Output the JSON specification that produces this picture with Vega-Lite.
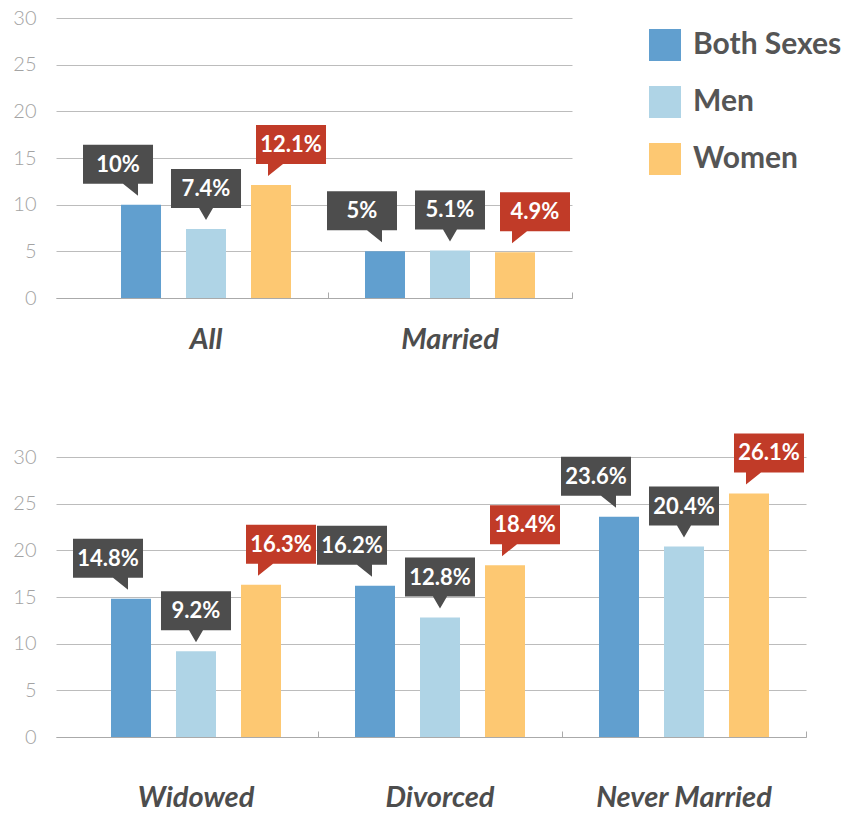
{
  "$schema": "https://vega.github.io/schema/vega-lite/v6.json",
  "padding": {"top": 8, "left": 12, "right": 0, "bottom": 0},
  "background": "white",
  "spacing": 79,
  "config": {
    "view": {"stroke": null},
    "font": "Lato",
    "axisY": {
      "domain": false, "ticks": false, "labelFontSize": 20, "labelColor": "#a3a3a3",
      "labelFontWeight": 300, "labelPadding": 20, "gridColor": "#bcbcbc", "gridWidth": 1,
      "values": [0, 5, 10, 15, 20, 25, 30], "title": null
    },
    "axisX": {
      "domainColor": "#aaaaaa", "tickColor": "#aaaaaa", "tickSize": -6, "bandPosition": 1,
      "labelFontSize": 29, "labelFontStyle": "italic", "labelFontWeight": "bold", "labelLimit": 500,
      "labelColor": "#4d4d4d", "labelAngle": 0, "labelBaseline": "top", "title": null, "grid": false
    }
  },
  "datasets": {
    "rates": [
      {"status": "All", "series": "Both Sexes", "value": 10, "label": "10%"},
      {"status": "All", "series": "Men", "value": 7.4, "label": "7.4%"},
      {"status": "All", "series": "Women", "value": 12.1, "label": "12.1%"},
      {"status": "Married", "series": "Both Sexes", "value": 5, "label": "5%"},
      {"status": "Married", "series": "Men", "value": 5.1, "label": "5.1%"},
      {"status": "Married", "series": "Women", "value": 4.9, "label": "4.9%"},
      {"status": "Widowed", "series": "Both Sexes", "value": 14.8, "label": "14.8%"},
      {"status": "Widowed", "series": "Men", "value": 9.2, "label": "9.2%"},
      {"status": "Widowed", "series": "Women", "value": 16.3, "label": "16.3%"},
      {"status": "Divorced", "series": "Both Sexes", "value": 16.2, "label": "16.2%"},
      {"status": "Divorced", "series": "Men", "value": 12.8, "label": "12.8%"},
      {"status": "Divorced", "series": "Women", "value": 18.4, "label": "18.4%"},
      {"status": "Never Married", "series": "Both Sexes", "value": 23.6, "label": "23.6%"},
      {"status": "Never Married", "series": "Men", "value": 20.4, "label": "20.4%"},
      {"status": "Never Married", "series": "Women", "value": 26.1, "label": "26.1%"}
    ]
  },
  "resolve": {"legend": {"color": "independent"}},
  "vconcat": [
    {
      "width": 516,
      "height": 280,
      "data": {"name": "rates"},
      "transform": [{"filter": {"field": "status", "oneOf": ["All", "Married"]}}],
      "encoding": {
        "x": {"field": "status", "type": "nominal", "sort": ["All", "Married"],
              "scale": {"paddingInner": 0, "paddingOuter": 0.0574, "align": 1},
              "axis": {"labelPadding": 33}},
        "xOffset": {"field": "series", "type": "nominal", "sort": ["Both Sexes", "Men", "Women"],
                    "scale": {"paddingInner": 0.3846, "paddingOuter": 0.5692}},
        "y": {"field": "value", "type": "quantitative", "scale": {"domain": [0, 30], "nice": false}}
      },
      "layer": [
        {
          "mark": {"type": "bar"},
          "encoding": {
            "color": {"field": "series", "type": "nominal",
                      "scale": {"domain": ["Both Sexes", "Men", "Women"], "range": ["#619fcf", "#afd4e6", "#fdc872"]},
                      "legend": {"orient": "none", "legendX": 593, "legendY": 11, "title": null,
                                 "symbolType": "square", "symbolSize": 1024, "symbolStrokeWidth": 0, "symbolOpacity": 1,
                                 "labelFontSize": 30, "labelFontWeight": "bold", "labelColor": "#555555",
                                 "labelOffset": 12, "rowPadding": 25, "padding": 0, "labelLimit": 300}}
          }
        },
        {
          "mark": {"type": "point", "filled": true, "size": 4, "opacity": 1, "strokeWidth": 0},
          "encoding": {
            "shape": {"field": "series", "type": "nominal", "legend": null,
                      "scale": {"domain": ["Both Sexes", "Men", "Women"],
                                "range": ["M-58,-60L12,-60L12,-21L-3,-21L-3,-9L-18,-21L-58,-21Z",
                                          "M-35,-60L35,-60L35,-21L7,-21L0,-9L-7,-21L-35,-21Z",
                                          "M-15,-60L55,-60L55,-21L12,-21L-3,-9L-3,-21L-15,-21Z"]}},
            "fill": {"condition": {"test": "datum.series === 'Women'", "value": "#c13b28"}, "value": "#4d4d4d"}
          }
        },
        {
          "transform": [{"filter": "datum.series === 'Both Sexes'"}],
          "mark": {"type": "text", "dx": -23, "dy": -40, "fontSize": 22, "fontWeight": "bold", "color": "white", "baseline": "middle"},
          "encoding": {"text": {"field": "label"}}
        },
        {
          "transform": [{"filter": "datum.series === 'Men'"}],
          "mark": {"type": "text", "dx": 0, "dy": -40, "fontSize": 22, "fontWeight": "bold", "color": "white", "baseline": "middle"},
          "encoding": {"text": {"field": "label"}}
        },
        {
          "transform": [{"filter": "datum.series === 'Women'"}],
          "mark": {"type": "text", "dx": 20, "dy": -40, "fontSize": 22, "fontWeight": "bold", "color": "white", "baseline": "middle"},
          "encoding": {"text": {"field": "label"}}
        }
      ]
    },
    {
      "width": 750,
      "height": 280,
      "data": {"name": "rates"},
      "transform": [{"filter": {"field": "status", "oneOf": ["Widowed", "Divorced", "Never Married"]}}],
      "encoding": {
        "x": {"field": "status", "type": "nominal", "sort": ["Widowed", "Divorced", "Never Married"],
              "scale": {"paddingInner": 0, "paddingOuter": 0.0369, "align": 1},
              "axis": {"labelPadding": 52}},
        "xOffset": {"field": "series", "type": "nominal", "sort": ["Both Sexes", "Men", "Women"],
                    "scale": {"paddingInner": 0.3846, "paddingOuter": 0.5692}},
        "y": {"field": "value", "type": "quantitative", "scale": {"domain": [0, 30], "nice": false}}
      },
      "layer": [
        {
          "mark": {"type": "bar"},
          "encoding": {
            "color": {"field": "series", "type": "nominal",
                      "scale": {"domain": ["Both Sexes", "Men", "Women"], "range": ["#619fcf", "#afd4e6", "#fdc872"]},
                      "legend": null}
          }
        },
        {
          "mark": {"type": "point", "filled": true, "size": 4, "opacity": 1, "strokeWidth": 0},
          "encoding": {
            "shape": {"field": "series", "type": "nominal", "legend": null,
                      "scale": {"domain": ["Both Sexes", "Men", "Women"],
                                "range": ["M-58,-60L12,-60L12,-21L-3,-21L-3,-9L-18,-21L-58,-21Z",
                                          "M-35,-60L35,-60L35,-21L7,-21L0,-9L-7,-21L-35,-21Z",
                                          "M-15,-60L55,-60L55,-21L12,-21L-3,-9L-3,-21L-15,-21Z"]}},
            "fill": {"condition": {"test": "datum.series === 'Women'", "value": "#c13b28"}, "value": "#4d4d4d"}
          }
        },
        {
          "transform": [{"filter": "datum.series === 'Both Sexes'"}],
          "mark": {"type": "text", "dx": -23, "dy": -40, "fontSize": 22, "fontWeight": "bold", "color": "white", "baseline": "middle"},
          "encoding": {"text": {"field": "label"}}
        },
        {
          "transform": [{"filter": "datum.series === 'Men'"}],
          "mark": {"type": "text", "dx": 0, "dy": -40, "fontSize": 22, "fontWeight": "bold", "color": "white", "baseline": "middle"},
          "encoding": {"text": {"field": "label"}}
        },
        {
          "transform": [{"filter": "datum.series === 'Women'"}],
          "mark": {"type": "text", "dx": 20, "dy": -40, "fontSize": 22, "fontWeight": "bold", "color": "white", "baseline": "middle"},
          "encoding": {"text": {"field": "label"}}
        }
      ]
    }
  ]
}
